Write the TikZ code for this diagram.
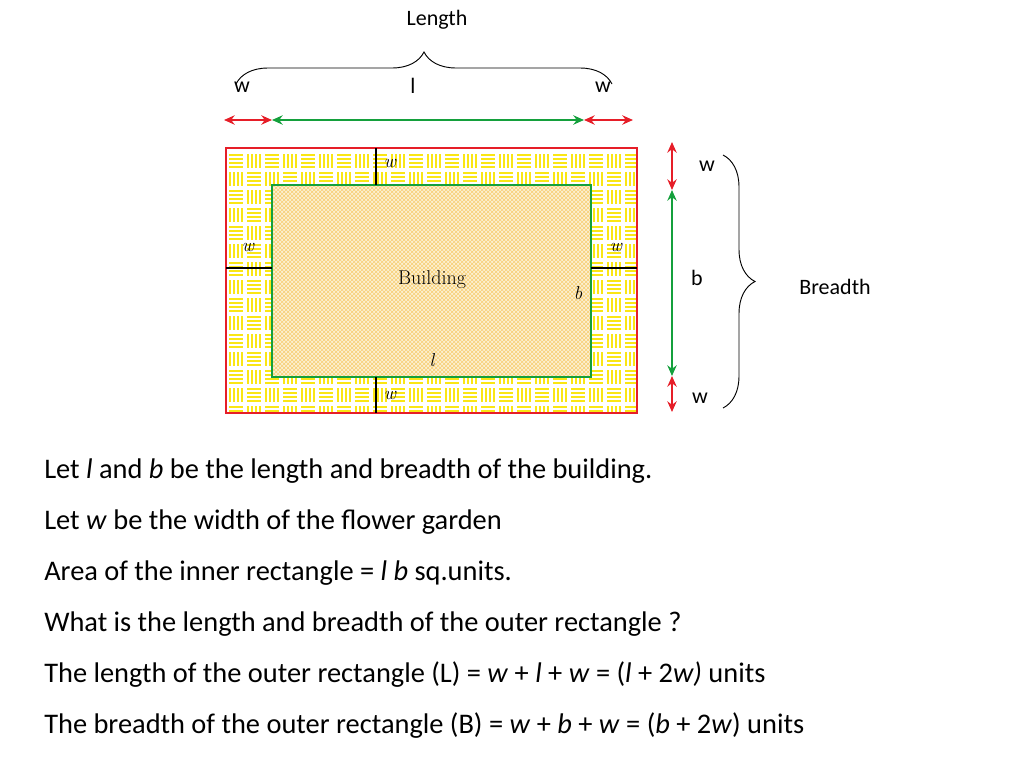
\documentclass[tikz,border=0pt]{standalone}
\usepackage{fontspec}
\setmainfont{Carlito}
\newfontfamily\lmser{Latin Modern Roman}
\usetikzlibrary{patterns,decorations.pathreplacing,arrows.meta}
\definecolor{wred}{RGB}{230,30,40}
\definecolor{wgreen}{RGB}{20,160,60}
\definecolor{wyel}{RGB}{250,230,20}
\definecolor{borange}{RGB}{245,195,80}
\tikzset{
  redarr/.style={wred,line width=1.5pt,{Stealth[length=8pt,width=7pt]}-{Stealth[length=8pt,width=7pt]}},
  grnarr/.style={wgreen,line width=1.5pt,{Stealth[length=8pt,width=7pt]}-{Stealth[length=8pt,width=7pt]}},
  lbl/.style={font=\fontsize{16.5}{19}\selectfont},
  fig/.style={font=\lmser\itshape\fontsize{14}{16}\selectfont},
  txt/.style={anchor=base west,font=\fontsize{21.3}{25}\selectfont,inner sep=0pt},
  brc/.style={decorate,decoration={brace,amplitude=24pt},line width=0.7pt}
}
\begin{document}
\begin{tikzpicture}[x=0.75pt,y=-0.75pt]
\useasboundingbox (0,0) rectangle (1024,768);
% garden pattern
\begin{scope}[even odd rule]
\clip (226,148) rectangle (637,413) (272,185) rectangle (591,377);
\foreach \i in {0,...,23}{
 \foreach \j in {0,...,15}{
  \pgfmathtruncatemacro\pp{mod(\i+\j,2)}
  \pgfmathsetmacro\xx{227+18*\i}
  \pgfmathsetmacro\yy{152+18*\j}
  \ifnum\pp=0
   \foreach \k in {3,7,11,15}{\draw[wyel,line width=0.9pt] (\xx+2,\yy+\k) -- (\xx+16,\yy+\k);}
  \else
   \foreach \k in {3,7,11,15}{\draw[wyel,line width=0.9pt] (\xx+\k,\yy+2) -- (\xx+\k,\yy+16);}
  \fi
 }}
\end{scope}
% building
\fill[borange!25] (272,185) rectangle (591,377);
\fill[pattern=crosshatch,pattern color=borange!80] (272,185) rectangle (591,377);
\node[draw=wred,line width=1.6pt,minimum width=308.25pt,minimum height=198.75pt,inner sep=0pt] (outer) at (431.5,280.5) {};
\node[draw=wgreen,line width=1.6pt,minimum width=239.25pt,minimum height=144pt,inner sep=0pt] (inner) at (431.5,281) {};
\draw[line width=1.2pt] (376,148) -- (376,185);
\draw[line width=1.2pt] (376,377) -- (376,413);
\draw[line width=1.2pt] (226,268) -- (272,268);
\draw[line width=1.2pt] (591,268) -- (637,268);
\node[fig] (wt) at (390,163) {w};
\node[fig] (wb) at (390,395) {w};
\node[fig] (wl) at (248,247) {w};
\node[fig] (wr) at (616,247) {w};
\node[font=\lmser\fontsize{15}{17}\selectfont] (bld) at (432,280) {Building};
\node[fig] (bb) at (578,293) {b};
\node[fig] (ll) at (432,360) {l};
% top arrows
\coordinate (t1) at (224,120); \coordinate (t2) at (272,120);
\coordinate (t3) at (584,120); \coordinate (t4) at (633,120);
\draw[redarr] (t1) -- (t2);
\draw[grnarr] (t2) -- (t3);
\draw[redarr] (t3) -- (t4);
\node[lbl] (lw1) at (242,87) {w};
\node[lbl] (lL) at (413,86) {l};
\node[lbl] (lw2) at (603,87) {w};
\draw[brc] (236,84) -- (612,84);
\node[lbl] (len) at (437,20) {Length};
% right arrows
\coordinate (r1) at (672,142); \coordinate (r2) at (672,190);
\coordinate (r3) at (672,376); \coordinate (r4) at (672,412);
\draw[redarr] (r1) -- (r2);
\draw[grnarr] (r2) -- (r3);
\draw[redarr] (r3) -- (r4);
\node[lbl] (rw1) at (707,166) {w};
\node[lbl] (rb) at (697,278) {b};
\node[lbl] (rw2) at (700,398) {w};
\draw[brc] (723,155) -- (723,408);
\node[lbl] (bre) at (835,287) {Breadth};
% text
\node[txt] at (44,478) {Let \textit{l} and \textit{b} be the length and breadth of the building.};
\node[txt] at (44,529) {Let \textit{w} be the width of the flower garden};
\node[txt] at (44,580) {Area of the inner rectangle = \textit{l b} sq.units.};
\node[txt] at (44,631) {What is the length and breadth of the outer rectangle ?};
\node[txt] at (44,682) {The length of the outer rectangle (L) = \textit{w} + \textit{l} + \textit{w} = (\textit{l} + 2\textit{w)} units};
\node[txt] at (44,733) {The breadth of the outer rectangle (B) = \textit{w} + \textit{b} + \textit{w} = (\textit{b} + 2\textit{w}) units};
\end{tikzpicture}
\end{document}
